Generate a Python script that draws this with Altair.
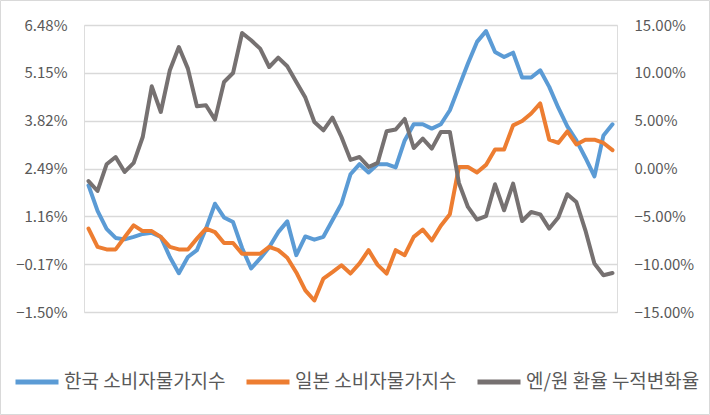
import altair as alt
import pandas as pd

names = ["한국 소비자물가지수", "일본 소비자물가지수", "엔/원 환율 누적변화율"]
colors = ["#5B9BD5", "#ED7D31", "#767171"]

korea = [2.02, 1.31, 0.81, 0.56, 0.52, 0.59, 0.67, 0.70, 0.59, 0.03,
         -0.42, 0.03, 0.22, 0.82, 1.51, 1.13, 1.00, 0.28, -0.29, -0.01,
         0.30, 0.72, 1.02, 0.08, 0.60, 0.51, 0.59, 1.05, 1.51, 2.33,
         2.61, 2.38, 2.61, 2.61, 2.52, 3.27, 3.72, 3.72, 3.60, 3.72,
         4.11, 4.76, 5.41, 6.01, 6.31, 5.73, 5.59, 5.71, 5.02, 5.02,
         5.22, 4.76, 4.18, 3.66, 3.27, 2.79, 2.27, 3.41, 3.72]

japan = [0.82, 0.31, 0.24, 0.24, 0.58, 0.91, 0.75, 0.75, 0.59, 0.31,
         0.24, 0.24, 0.54, 0.82, 0.72, 0.42, 0.42, 0.12, 0.12, 0.12,
         0.31, 0.22, 0.01, -0.40, -0.90, -1.18, -0.57, -0.39, -0.20, -0.43,
         -0.15, 0.22, -0.19, -0.43, 0.22, 0.08, 0.59, 0.79, 0.49, 0.90,
         1.22, 2.53, 2.53, 2.38, 2.59, 3.02, 3.02, 3.69, 3.81, 4.02,
         4.30, 3.29, 3.20, 3.52, 3.16, 3.29, 3.29, 3.20, 3.00]

jpykrw = [-1.31, -2.35, 0.44, 1.20, -0.36, 0.58, 3.29, 8.59, 5.91, 10.27,
          12.70, 10.44, 6.50, 6.61, 5.11, 9.04, 9.98, 14.17, 13.40, 12.53,
          10.61, 11.59, 10.69, 9.04, 7.41, 4.86, 3.99, 5.32, 3.29, 0.90,
          1.20, 0.16, 0.58, 3.89, 4.07, 5.18, 2.14, 3.13, 2.08, 3.82,
          3.82, -1.51, -4.02, -5.34, -4.99, -1.65, -4.37, -1.58, -5.49, -4.55,
          -4.79, -6.28, -5.13, -2.69, -3.50, -6.46, -9.94, -11.16, -10.92]

left_ticks = [-1.50, -0.17, 1.16, 2.49, 3.82, 5.15, 6.48]
right_ticks = [-15, -10, -5, 0, 5, 10, 15]

FONT = "Noto Sans CJK KR"
n = len(korea)


def frame(name, vals):
    return pd.DataFrame({"idx": list(range(n)), "value": vals, "series": [name] * n})


x_enc = alt.X("idx:Q", scale=alt.Scale(domain=[-0.5, n - 0.5], nice=False, zero=False), axis=None)
color_enc = alt.Color(
    "series:N",
    scale=alt.Scale(domain=names, range=colors),
    legend=alt.Legend(
        title=None, orient="none", direction="horizontal", legendX=-71, legendY=333,
        symbolType="stroke", symbolSize=1849, symbolStrokeWidth=5,
        labelFont=FONT, labelFontSize=19, labelColor="#595959",
        labelOffset=3, columnPadding=10, labelLimit=400,
    ),
)
left_scale = alt.Scale(domain=[-1.5, 6.48], nice=False, zero=False)
label_expr = "format(datum.value, '.2f') + '%'"

line_kw = dict(strokeWidth=4, strokeJoin="round", strokeCap="round")

border = alt.Chart(pd.DataFrame({"a": [0]})).mark_rect(
    fillOpacity=0, stroke="#D9D9D9", strokeWidth=1
).encode(x=alt.value(-83.5), x2=alt.value(625.5), y=alt.value(-24.5), y2=alt.value(389.5))

kor = alt.Chart(frame(names[0], korea)).mark_line(**line_kw).encode(
    x=x_enc,
    y=alt.Y("value:Q", scale=left_scale, axis=alt.Axis(
        values=left_ticks, labelExpr=label_expr, title=None, grid=True,
        gridColor="#D9D9D9", gridWidth=1.3, domain=False, ticks=False, labelPadding=17,
        labelFont=FONT, labelFontSize=15, labelColor="#595959", orient="left")),
    color=color_enc,
)

jap = alt.Chart(frame(names[1], japan)).mark_line(**line_kw).encode(
    x=x_enc,
    y=alt.Y("value:Q", scale=left_scale, axis=None),
    color=color_enc,
)

fx = alt.Chart(frame(names[2], jpykrw)).mark_line(**line_kw).encode(
    x=x_enc,
    y=alt.Y("value:Q", scale=alt.Scale(domain=[-15, 15], nice=False, zero=False), axis=alt.Axis(
        values=right_ticks, labelExpr=label_expr, title=None, grid=False,
        domain=False, ticks=False, labelPadding=17,
        labelFont=FONT, labelFontSize=15, labelColor="#595959", orient="right")),
    color=color_enc,
)

chart = alt.layer(border, kor, jap, fx).resolve_scale(y="independent").properties(
    width=533, height=287,
    autosize=alt.AutoSizeParams(type="none"),
    padding={"left": 84, "top": 25, "right": 93, "bottom": 103},
).configure_view(stroke=None).configure(background="white")

chart.save("out.html", embed_options={"renderer": "svg", "actions": False})
